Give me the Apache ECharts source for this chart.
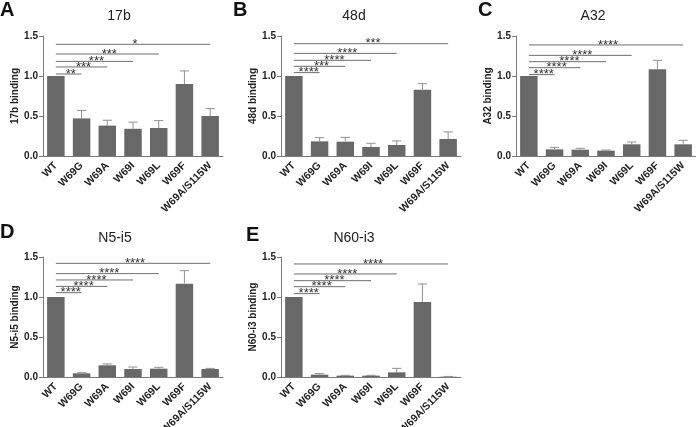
<!DOCTYPE html>
<html>
<head>
<meta charset="utf-8">
<script src="https://cdn.jsdelivr.net/npm/echarts@6/dist/echarts.min.js"></script>
<style>
  * { margin: 0; padding: 0; }
  body { background: #fff; }
</style>
</head>
<body>
<div id="main" style="width:696px;height:427px;background:white;"></div>
<script>
// categories and tick labels
const categories = ["WT", "W69G", "W69A", "W69I", "W69L", "W69F", "W69A/S115W"];
const yTicks = [0, 0.5, 1.0, 1.5];
const panelLetters = ["A", "B", "C", "D", "E"];
const panelTitles = ["17b", "48d", "A32", "N5-i5", "N60-i3"];
const axisNames = ["17b binding", "48d binding", "A32 binding", "N5-i5 binding", "N60-i3 binding"];

// mean binding (relative to WT) and upper error
const mean17b = [1.0, 0.47, 0.38, 0.34, 0.35, 0.90, 0.50];
const err17b = [0, 0.10, 0.067, 0.083, 0.092, 0.163, 0.092];
const mean48d = [1.0, 0.183, 0.179, 0.113, 0.138, 0.829, 0.213];
const err48d = [0, 0.046, 0.054, 0.046, 0.05, 0.075, 0.088];
const meanA32 = [1.0, 0.083, 0.079, 0.067, 0.146, 1.083, 0.146];
const errA32 = [0, 0.025, 0.017, 0.008, 0.029, 0.113, 0.05];
const meanN5 = [1.0, 0.046, 0.146, 0.10, 0.104, 1.167, 0.10];
const errN5 = [0, 0.008, 0.017, 0.025, 0.017, 0.162, 0.008];
const meanN60 = [1.0, 0.029, 0.017, 0.017, 0.058, 0.938, 0.004];
const errN60 = [0, 0.013, 0.004, 0.004, 0.05, 0.225, 0.003];

// significance brackets: WT vs each target, at these heights
const sigTargets = [1, 2, 3, 4, 6];
const sigLevels17b = [1.025, 1.113, 1.183, 1.275, 1.396];
const sigStars17b = ["**", "***", "***", "***", "*"];
const sigLevels48d = [1.042, 1.121, 1.196, 1.283, 1.404];
const sigStars48d = ["****", "***", "****", "****", "***"];
const sigLevelsA32 = [1.017, 1.104, 1.179, 1.258, 1.388];
const sigStarsA32 = ["****", "****", "****", "****", "****"];
const sigLevelsN5 = [1.054, 1.133, 1.213, 1.292, 1.421];
const sigStarsN5 = ["****", "****", "****", "****", "****"];
const sigLevelsN60 = [1.042, 1.129, 1.204, 1.288, 1.413];
const sigStarsN60 = ["****", "****", "****", "****", "****"];

const means = [mean17b, mean48d, meanA32, meanN5, meanN60];
const errs = [err17b, err48d, errA32, errN5, errN60];
const sigLevels = [sigLevels17b, sigLevels48d, sigLevelsA32, sigLevelsN5, sigLevelsN60];
const sigStars = [sigStars17b, sigStars48d, sigStarsA32, sigStarsN5, sigStarsN60];

// layout of the five panels (no auto shrinking for labels)
const grids = [
  { left: 43, top: 36, width: 180, height: 120, outerBoundsMode: "none" },
  { left: 281, top: 36, width: 180, height: 120, outerBoundsMode: "none" },
  { left: 516, top: 36, width: 180, height: 120, outerBoundsMode: "none" },
  { left: 43, top: 257, width: 180, height: 120, outerBoundsMode: "none" },
  { left: 281, top: 257, width: 180, height: 120, outerBoundsMode: "none" }
];
const titlePos = [[119, 16.5], [354, 16.5], [593, 16.5], [115, 238], [354, 238]];
const letterPos = [[0, 10], [233, 10], [478, 10], [0, 232], [246, 235]];

const FONT = '"Liberation Sans", Arial, sans-serif';
const barColor = "#686868";
const errColor = "#929292";
const axisColor = "#7a7a7a";

const chart = echarts.init(document.getElementById("main"));

const xAxes = [], yAxes = [], series = [], graphics = [];
grids.forEach((g, k) => {
  xAxes.push({
    type: "category",
    gridIndex: k,
    data: categories,
    axisLine: { lineStyle: { color: axisColor, width: 1 } },
    axisTick: { alignWithLabel: true, length: 3, lineStyle: { color: axisColor } },
    axisLabel: {
      rotate: 45,
      interval: 0,
      margin: 8,
      color: "#222",
      fontSize: 10.5,
      fontWeight: "bold",
      fontFamily: FONT
    }
  });
  yAxes.push({
    type: "value",
    gridIndex: k,
    min: yTicks[0],
    max: yTicks[yTicks.length - 1],
    interval: 0.5,
    name: axisNames[k],
    nameLocation: "middle",
    nameGap: 20,
    nameTextStyle: { color: "#222", fontSize: 10, fontWeight: "bold", fontFamily: FONT },
    axisLine: { show: true, lineStyle: { color: axisColor, width: 1 } },
    axisTick: { show: true, length: 4, lineStyle: { color: axisColor } },
    splitLine: { show: false },
    axisLabel: {
      margin: 5,
      color: "#222",
      fontSize: 10,
      fontWeight: "bold",
      fontFamily: FONT,
      formatter: v => v.toFixed(1)
    }
  });

  series.push({
    type: "bar",
    xAxisIndex: k,
    yAxisIndex: k,
    barWidth: "68%",
    data: means[k],
    itemStyle: { color: barColor },
    z: 2
  });

  // upper error bars
  series.push({
    type: "custom",
    xAxisIndex: k,
    yAxisIndex: k,
    z: 3,
    data: categories.map((c, i) => [i, means[k][i], errs[k][i]]),
    renderItem: function (params, api) {
      const e = api.value(2);
      if (!e) return;
      const i = api.value(0), m = api.value(1);
      const base = api.coord([i, m]);
      const top = api.coord([i, m + e]);
      const half = api.size([1, 0])[0] * 0.18;
      const st = { stroke: errColor, lineWidth: 1 };
      return {
        type: "group",
        children: [
          { type: "line", shape: { x1: base[0], y1: base[1], x2: top[0], y2: top[1] }, style: st },
          { type: "line", shape: { x1: top[0] - half, y1: top[1], x2: top[0] + half, y2: top[1] }, style: st }
        ]
      };
    }
  });

  // significance lines
  series.push({
    type: "custom",
    xAxisIndex: k,
    yAxisIndex: k,
    z: 4,
    data: sigTargets.map((t, j) => [t, sigLevels[k][j]]),
    renderItem: function (params, api) {
      const t = api.value(0), y = api.value(1);
      const p0 = api.coord([0, y]);
      const p1 = api.coord([t, y]);
      return {
        type: "group",
        children: [
          {
            type: "line",
            shape: { x1: p0[0], y1: p0[1], x2: p1[0], y2: p1[1] },
            style: { stroke: "#6e6e6e", lineWidth: 1 }
          },
          {
            type: "text",
            style: {
              text: sigStars[k][params.dataIndex],
              x: (p0[0] + p1[0]) / 2 + 2,
              y: p0[1],
              align: "center",
              verticalAlign: "middle",
              fill: "#333",
              font: "13px " + FONT
            }
          }
        ]
      };
    }
  });

  graphics.push({
    type: "text",
    x: titlePos[k][0],
    y: titlePos[k][1],
    style: {
      text: panelTitles[k],
      align: "center",
      verticalAlign: "middle",
      fill: "#222",
      font: "14px " + FONT
    }
  });
  graphics.push({
    type: "text",
    x: letterPos[k][0],
    y: letterPos[k][1],
    style: {
      text: panelLetters[k],
      align: "left",
      verticalAlign: "middle",
      fill: "#111",
      font: "bold 20px " + FONT
    }
  });
});

chart.setOption({
  animation: false,
  grid: grids,
  xAxis: xAxes,
  yAxis: yAxes,
  series: series,
  graphic: graphics
});
</script>
</body>
</html>
